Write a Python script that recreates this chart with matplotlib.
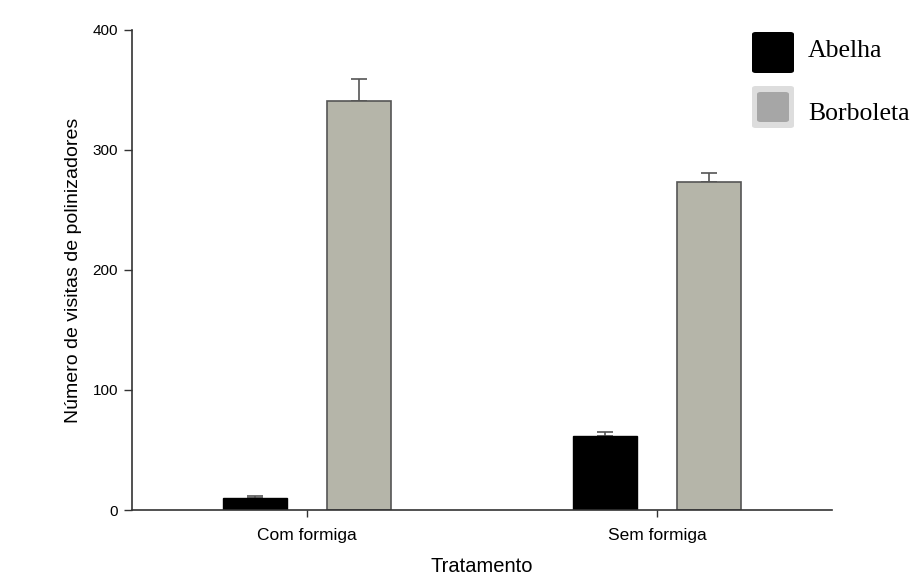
import numpy as np
import matplotlib
matplotlib.use("Agg")
import matplotlib.pyplot as plt
from matplotlib.patches import FancyBboxPatch

# data
tratamentos = ["Com formiga", "Sem formiga"]
abelha = [10, 62]
abelha_err = [1.5, 3]
borboleta = [341, 273]
borboleta_err = [18, 8]
legend_labels = ["Abelha", "Borboleta"]
y_ticks = [0, 100, 200, 300, 400]

plt.rcParams['font.family'] = ['Liberation Sans', 'DejaVu Sans']

fig = plt.figure(figsize=(9.15, 5.82), dpi=100)
ax = fig.add_axes([0.1443, 0.1237, 0.9093 - 0.1443, 0.9485 - 0.1237])

x = np.arange(len(tratamentos))
w = 0.183
off = 0.149
ax.bar(x - off, abelha, w, color='black', edgecolor='black', linewidth=1, zorder=2)
ax.bar(x + off, borboleta, w, color='#b5b5a9', edgecolor='#555555', linewidth=1.2, zorder=2)

# only the upper half of the error bars is drawn
ax.errorbar(x - off, abelha, yerr=[np.zeros(2), abelha_err], fmt='none',
            ecolor='#555555', elinewidth=1.2, capsize=6, capthick=1.2, zorder=1)
ax.errorbar(x + off, borboleta, yerr=[np.zeros(2), borboleta_err], fmt='none',
            ecolor='#555555', elinewidth=1.2, capsize=6, capthick=1.2, zorder=1)

ax.set_xlim(-0.5, 1.5)
ax.set_ylim(0, 400)
ax.set_yticks(y_ticks)
ax.set_xticks(x)
ax.set_xticklabels(tratamentos)
ax.tick_params(axis='y', direction='out', length=6, width=1, color='#333333',
               labelsize=11, pad=4)
ax.tick_params(axis='x', direction='out', length=5, width=1, color='#333333',
               labelsize=12.5, pad=8)

for s in ['top', 'right']:
    ax.spines[s].set_visible(False)
for s in ['left', 'bottom']:
    ax.spines[s].set_color('#333333')
    ax.spines[s].set_linewidth(1.2)

ax.set_xlabel('Tratamento', fontsize=14.5, labelpad=10)
ax.set_ylabel('Número de visitas de polinizadores', fontsize=14, labelpad=8)

# legend drawn by hand, in figure pixels
W, H = 915, 582
def box(x0, y0, x1, y1, fc, ec=None, lw=0):
    p = FancyBboxPatch((x0 / W, 1 - y1 / H), (x1 - x0) / W, (y1 - y0) / H,
                       boxstyle="round,pad=0,rounding_size=0.004",
                       transform=fig.transFigure, facecolor=fc,
                       edgecolor=ec if ec else fc, linewidth=lw)
    fig.patches.append(p)

box(752, 32, 794, 73, 'black')
box(752, 86, 794, 128, '#dddddd')
box(757, 92, 789, 122, '#a6a6a6')
fig.text(808 / W, 1 - 57 / H, legend_labels[0], fontsize=18.5,
         family=['Liberation Serif', 'DejaVu Serif'], va='baseline')
fig.text(808 / W, 1 - 120 / H, legend_labels[1], fontsize=18.5,
         family=['Liberation Serif', 'DejaVu Serif'], va='baseline')

fig.savefig('out.png', dpi=100)
